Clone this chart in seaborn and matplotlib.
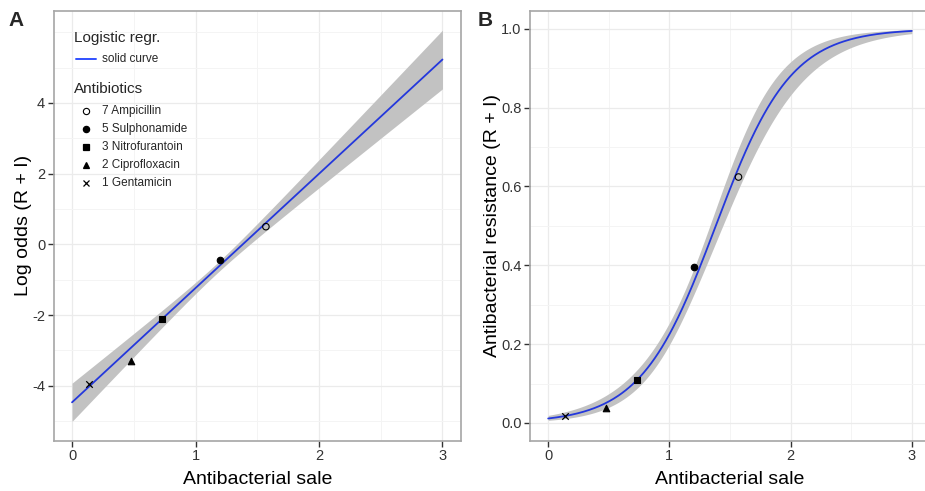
import numpy as np
import pandas as pd
import matplotlib
matplotlib.use("Agg")
import matplotlib.pyplot as plt
from matplotlib.lines import Line2D
import seaborn as sns

# ---- data ----
antibiotics = ["7 Ampicillin", "5 Sulphonamide", "3 Nitrofurantoin", "2 Ciprofloxacin", "1 Gentamicin"]
sale = [1.57, 1.20, 0.73, 0.475, 0.135]
log_odds = [0.50, -0.43, -2.10, -3.30, -3.95]
resistance = [0.624, 0.395, 0.109, 0.037, 0.018]
markers = ["o", "o", "s", "^", "x"]
filled = [False, True, True, True, True]

# fitted logistic regression (in panel A)
fit_intercept = -4.47
fit_slope = 3.233
# 95% band half-width parameters: h(x)^2 = a + b (x - m)^2
band_a, band_b, band_m = 0.02, 0.20, 1.168

x_ticks = [0, 1, 2, 3]
a_yticks = [-4, -2, 0, 2, 4]
b_yticks = [0.0, 0.2, 0.4, 0.6, 0.8, 1.0]

sns.set_theme(style="white")
plt.rcParams["font.family"] = ["Liberation Sans", "DejaVu Sans"]

W, H = 925, 491
fig = plt.figure(figsize=(W / 100, H / 100), dpi=100)


def frac_box(l, t, r, b):
    return [l / W, 1 - b / H, (r - l) / W, (b - t) / H]


def fx(px):
    return px / W


def fy(py):
    return 1 - py / H


axA = fig.add_axes(frac_box(53.5, 10.7, 461, 440.5))
axB = fig.add_axes(frac_box(530, 10.7, 930, 440.5))

xs = np.linspace(0, 3, 301)
lin = fit_intercept + fit_slope * xs
half = np.sqrt(band_a + band_b * (xs - band_m) ** 2)
curve = pd.DataFrame({"x": xs, "lo": lin, "lo_lo": lin - half, "lo_hi": lin + half})
curve["p"] = 1 / (1 + np.exp(-curve["lo"]))
curve["p_lo"] = 1 / (1 + np.exp(-curve["lo_lo"]))
curve["p_hi"] = 1 / (1 + np.exp(-curve["lo_hi"]))

pts = pd.DataFrame({"ab": antibiotics, "sale": sale, "lo": log_odds, "p": resistance})

band_col = "#c2c2c2"
line_col = "#2438dc"


def style_axes(ax, xlim, ylim, yticks, yminor, yfmt):
    ax.set_xlim(*xlim)
    ax.set_ylim(*ylim)
    ax.set_xticks(x_ticks)
    ax.set_xticks([0.5, 1.5, 2.5], minor=True)
    ax.set_yticks(yticks)
    ax.set_yticks(yminor, minor=True)
    ax.set_yticklabels([yfmt(v) for v in yticks])
    ax.set_xticklabels([str(v) for v in x_ticks])
    ax.grid(which="major", color="#ebebeb", lw=0.9)
    ax.grid(which="minor", color="#f4f4f4", lw=0.7)
    ax.set_axisbelow(True)
    for s in ax.spines.values():
        s.set_color("#a6a6a6")
        s.set_linewidth(1.2)
        s.set_visible(True)
    ax.tick_params(axis="both", which="major", direction="out", length=4, width=1,
                   color="#333333", labelsize=10.5, labelcolor="#333333", pad=2, left=True, bottom=True)
    ax.tick_params(axis="both", which="minor", length=0)
    ax.set_facecolor("white")


def draw_points(ax, ycol):
    for i, row in pts.iterrows():
        kw = dict(marker=markers[i], s=22, color="black", linewidth=0.8, zorder=5, legend=False)
        if not filled[i]:
            kw.update(facecolor="none", edgecolor="black")
        elif markers[i] == "x":
            kw.update(linewidth=0.9)
        else:
            kw.update(edgecolor="black")
        sns.scatterplot(x=[row["sale"]], y=[row[ycol]], ax=ax, **kw)


# ---- Panel A ----
axA.fill_between(curve["x"], curve["lo_lo"], curve["lo_hi"], color=band_col, lw=0, zorder=2)
sns.lineplot(data=curve, x="x", y="lo", ax=axA, color=line_col, lw=1.3, zorder=3)
draw_points(axA, "lo")
style_axes(axA, (-0.15, 3.15), (-5.55, 6.61), a_yticks, [-5, -3, -1, 1, 3, 5, 6], lambda v: f"{v:d}")
axA.set_xlabel("Antibacterial sale", fontsize=14, color="black", labelpad=6)
axA.set_ylabel("Log odds (R + I)", fontsize=14, color="black", labelpad=0)

# ---- manual legend in panel A (ggplot style) ----
fig.text(fx(74), fy(38), "Logistic regr.", fontsize=11, va="center", ha="left")
fig.add_artist(Line2D([fx(76), fx(96)], [fy(59), fy(59)], color="#3050ff", lw=1.4,
                      transform=fig.transFigure))
fig.text(fx(102), fy(59), "solid curve", fontsize=8.5, va="center", ha="left")
fig.text(fx(74), fy(89), "Antibiotics", fontsize=11, va="center", ha="left")
for i, name in enumerate(antibiotics):
    yy = fy(111 + 18 * i)
    if not filled[i]:
        mk = dict(markerfacecolor="none", markeredgecolor="black", markeredgewidth=0.8)
    else:
        mk = dict(color="black", markeredgewidth=0.9)
    fig.add_artist(Line2D([fx(86)], [yy], ls="", marker=markers[i], markersize=4.5,
                          transform=fig.transFigure, **mk))
    fig.text(fx(102), yy, name, fontsize=8.5, va="center", ha="left")

# ---- Panel B ----
axB.fill_between(curve["x"], curve["p_lo"], curve["p_hi"], color=band_col, lw=0, zorder=2)
sns.lineplot(data=curve, x="x", y="p", ax=axB, color=line_col, lw=1.3, zorder=3)
draw_points(axB, "p")
style_axes(axB, (-0.15, 3.15), (-0.0445, 1.046), b_yticks, [0.1, 0.3, 0.5, 0.7, 0.9], lambda v: f"{v:.1f}")
axB.set_xlabel("Antibacterial sale", fontsize=14, color="black", labelpad=6)
axB.set_ylabel("Antibacterial resistance (R + I)", fontsize=14, color="black", labelpad=0)

fig.text(fx(8), fy(20), "A", fontsize=15, fontweight="bold", va="center", ha="left")
fig.text(fx(478), fy(20), "B", fontsize=15, fontweight="bold", va="center", ha="left")

fig.savefig("out.png", dpi=100, facecolor="white")
